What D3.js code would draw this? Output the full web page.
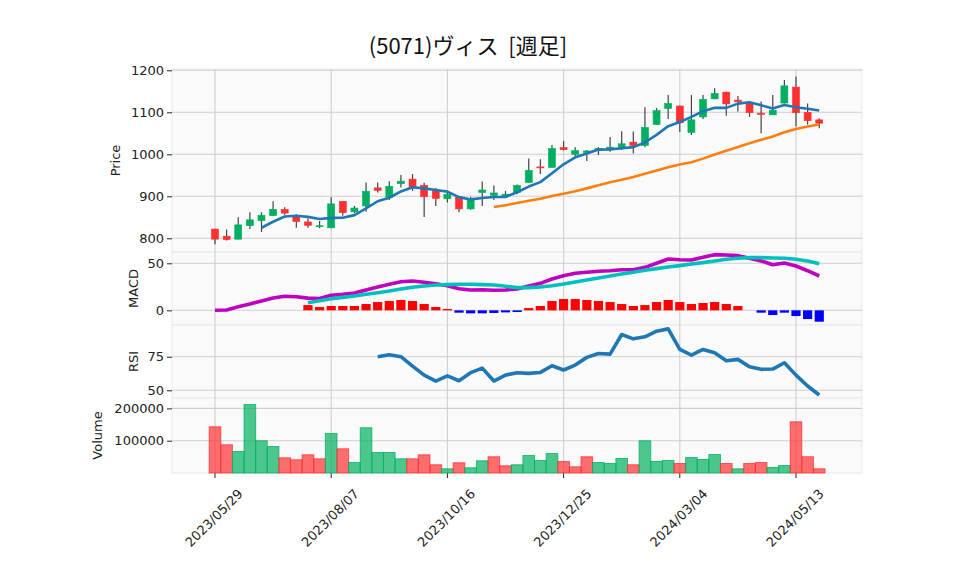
<!DOCTYPE html>
<html><head><meta charset="utf-8">
<script src="https://cdn.jsdelivr.net/npm/d3@7"></script>
<style>body{margin:0;background:#fff} svg{display:block}</style>
</head><body>
<svg id="chart" width="958" height="575"></svg>
<script>
// ---------------- data ----------------
const title = "(5071)ヴィス\u00a0\u00a0[週足]";
const tickIndex = [0, 10, 20, 30, 40, 50];
const tickLabels = ["2023/05/29", "2023/08/07", "2023/10/16", "2023/12/25", "2024/03/04", "2024/05/13"];

const open  = [822,805,798,830,842,854,869,851,839,828,825,888,863,877,920,898,930,941,926,913,894,899,870,909,902,900,909,933,970,969,1016,1000,1004,1010,1013,1017,1029,1021,1071,1109,1115,1052,1089,1132,1148,1129,1123,1098,1094,1122,1160,1100,1082];
const high  = [823,821,850,862,862,888,874,857,848,841,898,889,877,933,933,936,951,953,932,920,911,901,899,935,926,913,928,990,988,1022,1032,1017,1010,1017,1041,1055,1054,1112,1110,1141,1116,1141,1141,1157,1149,1139,1127,1126,1141,1177,1185,1121,1086];
const low   = [786,795,797,822,815,853,856,825,825,824,824,854,860,863,909,891,921,913,851,877,885,862,868,877,891,898,905,932,953,968,1009,995,984,998,1006,1010,1002,1017,1070,1084,1053,1046,1084,1131,1092,1102,1089,1050,1094,1121,1066,1071,1062];
const close = [798,797,832,844,855,869,860,840,831,830,882,861,872,912,914,924,936,921,899,895,905,870,894,915,908,905,926,962,968,1014,1011,1009,1008,1014,1017,1025,1021,1064,1104,1121,1075,1082,1131,1145,1120,1125,1099,1095,1105,1163,1099,1080,1074];
const volume = [143000,87300,66600,212000,99700,82000,47000,40900,56300,43900,122300,74900,32500,140000,63500,63500,43900,43900,56300,25400,13000,31600,16100,37800,50200,22300,25400,54200,38700,60400,35600,19200,50200,32500,29400,44900,25400,99700,35600,38700,29400,48000,41800,57300,29400,13000,29400,32500,17000,23200,158500,50200,13000];

const ma5 = [null,null,null,null,825.2,839.4,852,853.6,851,846,848.6,848.8,855.2,871.4,888.2,896.6,911.6,921.4,918.8,915,911.2,898,892.6,895.8,898.4,898.4,909.6,923.2,933.8,955,976.2,992.8,1002,1011.2,1011.8,1014.6,1017,1028.2,1046.2,1067,1077,1089.2,1102.6,1110.8,1110.6,1120.6,1124,1116.8,1108.8,1117.4,1112.2,1108.4,1104.2];
const ma25 = [null,null,null,null,null,null,null,null,null,null,null,null,null,null,null,null,null,null,null,null,null,null,null,null,874.6,878.8,884,889.2,894.2,900.5,906.2,912.2,918.9,926.2,933.7,939.4,945.8,953.5,961.2,969.4,975.5,981.3,989.7,999.6,1008.6,1017.4,1026.5,1034.6,1042.2,1052.4,1060.1,1066.3,1070.8];

const macd = [0,0.3,3.8,6.7,9.9,13,14.9,14.5,13,12.6,16,17,18.4,21.6,24.8,27.7,30.4,31.2,29.8,28.3,26.2,23,21.6,21.9,21.3,21.6,22.7,25.9,28.7,33.3,36.8,39.4,40.4,41.5,42.1,43.2,43.2,45.7,50,54.6,53.8,53.5,56.4,59.2,58.8,58.1,55.3,52.5,48.5,50.3,47.1,42.1,36.5];
const signal = [null,null,null,null,null,null,null,null,8.1,10.2,12.3,13.8,15.2,17,18.7,20.5,22.7,24.5,25.9,26.9,27.3,27.7,27.7,27.3,26.9,25.5,24.1,24.1,24.8,26.2,28,30.1,32.2,34.4,36.5,38.6,40.4,42.6,44.3,46.1,47.5,49.3,50.7,52.5,54.3,55.3,56,56,55.6,55.3,54.3,52.5,49.6];
const hist = [null,null,null,null,null,null,null,null,5.6,3.5,4.6,4.6,4.6,6.7,8.8,9.9,11,9.9,6.7,3.5,1.4,-2.5,-3.2,-3.2,-2.8,-2.2,-1.8,2.4,4.6,9.9,12,12,11,9.9,8.8,6.7,4.6,5.6,8.8,11,8.8,6.7,7.8,8.8,6.7,4.6,0,-2.5,-5,-2.5,-6.1,-9.3,-12.1];
const rsi = [null,null,null,null,null,null,null,null,null,null,null,null,null,null,75,76.4,75,68,61.3,56.9,60.8,57.1,63.1,66.5,56.9,61.3,63.1,62.6,63.3,68.3,65.1,68.8,74.5,77.4,76.9,91.5,88.3,89.8,94,95.7,80.4,76.2,80.4,77.9,72,73,67.5,65.6,65.8,70.5,61.3,53.2,46.5];

const priceTicks = [800, 900, 1000, 1100, 1200];
const macdTicks = [0, 50];
const rsiTicks = [50, 75];
const volTicks = [100000, 200000];

// ---------------- layout ----------------
const svg = d3.select("#chart");
const X0 = 172, X1 = 862;
const x = d3.scaleLinear().domain([-3.7, 55.68]).range([X0, X1]);
const idx = d3.range(close.length);

const panels = {
  price: {top: 69, bottom: 252, domain: [767.4, 1203.1], ticks: priceTicks, label: "Price", lx: 115},
  macd:  {top: 252, bottom: 325, domain: [-15.6, 62.0], ticks: macdTicks, label: "MACD", lx: 133},
  rsi:   {top: 325, bottom: 398, domain: [44.27, 98.59], ticks: rsiTicks, label: "RSI", lx: 133},
  vol:   {top: 398, bottom: 473, domain: [0, 232200], ticks: volTicks, label: "Volume", lx: 97}
};
Object.values(panels).forEach(p => {
  p.y = d3.scaleLinear().domain(p.domain).range([p.bottom, p.top]);
});

const font = "'DejaVu Sans', sans-serif";
const gridColor = "#cfcfcf";

// backgrounds
Object.values(panels).forEach(p => {
  svg.append("rect").attr("x", X0).attr("y", p.top).attr("width", X1 - X0).attr("height", p.bottom - p.top)
    .attr("fill", "#fafafa").attr("stroke", "#e8e8e8").attr("stroke-width", 1);
});

// vertical grid
svg.append("g").selectAll("line").data(tickIndex).join("line")
  .attr("x1", d => x(d)).attr("x2", d => x(d)).attr("y1", 69).attr("y2", 473)
  .attr("stroke", gridColor).attr("stroke-width", 1.1);

// horizontal grid + y axes
Object.values(panels).forEach(p => {
  const g = svg.append("g");
  g.selectAll("line.grid").data(p.ticks).join("line").attr("class", "grid")
    .attr("x1", X0).attr("x2", X1).attr("y1", d => p.y(d)).attr("y2", d => p.y(d))
    .attr("stroke", gridColor).attr("stroke-width", 1.1);
  const ax = d3.axisLeft(p.y).tickValues(p.ticks).tickSize(5).tickPadding(3).tickFormat(d3.format("d"));
  const a = svg.append("g").attr("transform", `translate(${X0},0)`).call(ax);
  a.select(".domain").remove();
  a.selectAll("text").attr("font-family", font).attr("font-size", 13).attr("fill", "#222");
  a.selectAll("line").attr("stroke", "#222");
  svg.append("text").attr("transform", `translate(${p.lx},${(p.top + p.bottom) / 2}) rotate(-90)`)
    .attr("text-anchor", "middle").attr("dominant-baseline", "central")
    .attr("font-family", font).attr("font-size", 13).attr("fill", "#222").text(p.label);
});

// x axis ticks + labels
const xa = svg.append("g");
xa.selectAll("line").data(tickIndex).join("line")
  .attr("x1", d => x(d)).attr("x2", d => x(d)).attr("y1", 473).attr("y2", 478).attr("stroke", "#222");
xa.selectAll("text").data(tickIndex).join("text")
  .attr("transform", d => `translate(${x(d) - 1},518) rotate(-45)`)
  .attr("text-anchor", "middle").attr("dominant-baseline", "central")
  .attr("font-family", font).attr("font-size", 13).attr("fill", "#222")
  .text((d, i) => tickLabels[i]);

// ---------------- price panel ----------------
const P = panels.price;
const upC = "#00b060", dnC = "#fe3032";
const cw = 7;
const cg = svg.append("g");
cg.selectAll("line").data(idx).join("line")
  .attr("x1", i => x(i)).attr("x2", i => x(i))
  .attr("y1", i => P.y(high[i])).attr("y2", i => P.y(low[i]))
  .attr("stroke", "#444").attr("stroke-width", 1.2);
cg.selectAll("rect").data(idx).join("rect")
  .attr("x", i => x(i) - cw / 2).attr("width", cw)
  .attr("y", i => P.y(Math.max(open[i], close[i])))
  .attr("height", i => Math.max(1, Math.abs(P.y(open[i]) - P.y(close[i]))))
  .attr("fill", i => close[i] >= open[i] ? upC : dnC)
  .attr("stroke", i => close[i] >= open[i] ? upC : dnC).attr("stroke-width", 0.6);

function drawLine(panel, arr, color, w) {
  const ln = d3.line().defined(i => arr[i] != null).x(i => x(i)).y(i => panel.y(arr[i]));
  svg.append("path").attr("d", ln(idx)).attr("fill", "none").attr("stroke", color)
    .attr("stroke-width", w).attr("stroke-linejoin", "round").attr("stroke-linecap", "butt");
}
drawLine(P, ma5, "#1f77b4", 2.6);
drawLine(P, ma25, "#ff7f0e", 2.6);

// ---------------- MACD panel ----------------
const M = panels.macd;
const hw = 9.2;
svg.append("g").selectAll("rect").data(idx.filter(i => hist[i] != null && hist[i] !== 0)).join("rect")
  .attr("x", i => x(i) - hw / 2).attr("width", hw)
  .attr("y", i => M.y(Math.max(0, hist[i])))
  .attr("height", i => Math.abs(M.y(hist[i]) - M.y(0)))
  .attr("fill", i => hist[i] >= 0 ? "#ff0000" : "#0000ff");
drawLine(M, macd, "#bf00bf", 3.6);
drawLine(M, signal, "#00bfbf", 3.6);

// ---------------- RSI panel ----------------
drawLine(panels.rsi, rsi, "#1f77b4", 3.6);

// ---------------- Volume panel ----------------
const V = panels.vol;
const vw = x(1) - x(0);
const volUp = i => i > 0 && close[i] > close[i - 1];
svg.append("g").selectAll("rect").data(idx).join("rect")
  .attr("x", i => x(i) - vw / 2).attr("width", vw)
  .attr("y", i => V.y(volume[i])).attr("height", i => V.y(0) - V.y(volume[i]))
  .attr("fill", i => volUp(i) ? upC : dnC).attr("fill-opacity", 0.7)
  .attr("stroke", i => volUp(i) ? upC : dnC).attr("stroke-opacity", 0.75).attr("stroke-width", 1);

// ---------------- title ----------------
svg.append("text").attr("x", 468).attr("y", 54).attr("text-anchor", "middle")
  .attr("font-family", "'Noto Sans CJK JP', 'DejaVu Sans', sans-serif").attr("font-size", 22).attr("fill", "#111")
  .text(title);
</script>
</body></html>
